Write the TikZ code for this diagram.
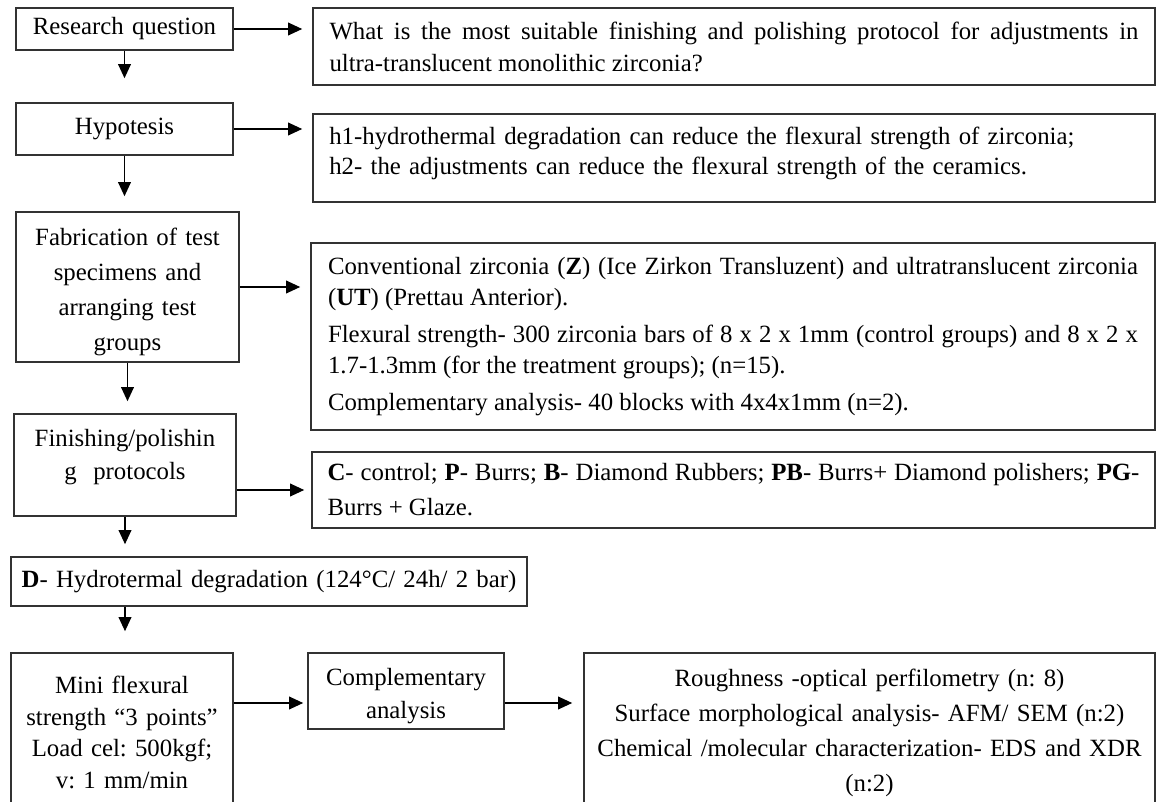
\documentclass[tikz,border=0pt]{standalone}
\usepackage{fontspec}
\setmainfont{Liberation Serif}
\usetikzlibrary{arrows.meta,calc}
\hyphenpenalty=10000
\exhyphenpenalty=10000
\frenchspacing

\tikzset{every picture/.style={line width=0.75pt}}
\tikzset{
	box/.style={draw={rgb, 255:red, 50; green, 50; blue, 50 }, line width=1.2pt, inner sep=0pt},
	lead/.style={font=\fontsize{18.6pt}{#1}\selectfont},
	arr/.style={-{Triangle[length=10.5pt,width=9.5pt]}, line width=1pt},
}

\begin{document}
\begin{tikzpicture}[x=0.75pt,y=0.75pt,yscale=-1,xscale=1]
	\useasboundingbox (0,0) rectangle (1157,802);
	
	%Shape: Rectangle [research question]
	\node [box, lead=23.25pt, minimum width=162.75pt, minimum height=31.5pt, text width=150pt, align=center] (rq) at (124.5,29) {Research question};
	%Shape: Rectangle [question]
	\node [box, lead=24pt, minimum width=631.5pt, minimum height=57.75pt, text width=606.75pt, align=justify] (q) at (734,46.5) {What is the most suitable finishing and polishing protocol for adjustments in\linebreak ultra-translucent monolithic zirconia?};
	
	%Shape: Rectangle [hypotesis]
	\node [box, lead=23.25pt, minimum width=162.75pt, minimum height=39pt, text width=150pt, align=center] (hyp) at (124.5,129) {Hypotesis};
	%Shape: Rectangle [h1 h2]
	\node [box, lead=22.5pt, minimum width=631.5pt, minimum height=66pt, text width=607pt, align=left, text depth=33.7pt] (h) at (734,158) {h1-hydrothermal degradation can reduce the flexural strength of zirconia;\\ h2- the adjustments can reduce the flexural strength of the ceramics.};
	
	%Shape: Rectangle [fabrication]
	\node [box, lead=26.25pt, minimum width=167.25pt, minimum height=112.5pt, text width=155pt, align=center, text height=20pt] (fab) at (127.5,287) {Fabrication of test\\ specimens and\\ arranging test\\ groups};
	%Shape: Rectangle [materials]
	\node [box, lead=23.25pt, minimum width=633pt, minimum height=140.25pt, text width=607.5pt, align=justify] (mat) at (733,336.5) {Conventional zirconia (\textbf{Z}) (Ice Zirkon Transluzent) and ultratranslucent zirconia\linebreak (\textbf{UT}) (Prettau Anterior).\\[4.5pt] Flexural strength- 300 zirconia bars of 8 x 2 x 1mm (control groups) and 8 x 2 x\linebreak 1.7-1.3mm (for the treatment groups); (n=15).\\[4.5pt] Complementary analysis- 40 blocks with 4x4x1mm (n=2).};
	
	%Shape: Rectangle [finishing]
	\node [box, lead=24.75pt, minimum width=166.5pt, minimum height=76.5pt, text width=155pt, align=center, text depth=40pt] (fin) at (125,465) {Finishing/polishin\\ g\ \ protocols};
	%Shape: Rectangle [groups]
	\node [box, lead=26.25pt, minimum width=632.25pt, minimum height=57pt, text width=609pt, align=justify] (grp) at (733.5,490) {\textbf{C}- control; \textbf{P}- Burrs; \textbf{B}- Diamond Rubbers; \textbf{PB}- Burrs+ Diamond polishers; \textbf{PG}-\linebreak Burrs + Glaze.};
	
	%Shape: Rectangle [degradation]
	\node [box, lead=23.25pt, minimum width=387pt, minimum height=36.75pt, text width=375pt, align=center] (deg) at (269,581.5) {\textbf{D}- Hydrotermal degradation (124°C/ 24h/ 2 bar)};
	
	%Shape: Rectangle [mini flexural]
	\node [box, lead=23.6pt, minimum width=166.5pt, minimum height=119.25pt, text width=160pt, align=center] (mini) at (122,732.5) {Mini flexural\\ strength “3 points”\\ Load cel: 500kgf;\\ v: 1 mm/min};
	%Shape: Rectangle [complementary]
	\node [box, lead=24.75pt, minimum width=147pt, minimum height=57pt, text width=140pt, align=center, text height=21pt] (comp) at (406,691) {Complementary\\ analysis};
	%Shape: Rectangle [analyses]
	\node [box, lead=26.25pt, minimum width=428.25pt, minimum height=119.25pt, text width=410pt, align=center] (ana) at (869.5,732.5) {Roughness -optical perfilometry (n: 8)\\ Surface morphological analysis- AFM/ SEM (n:2)\\ Chemical /molecular characterization- EDS and XDR\\ (n:2)};
	
	%Right Arrows
	\draw [arr, shorten >=7.5pt] (rq) -- (rq -| q.west);
	\draw [arr, shorten >=7.5pt] (hyp) -- (hyp -| h.west);
	\draw [arr, shorten >=7.5pt] (fab) -- (fab -| mat.west);
	\draw [arr, shorten >=5.25pt] (grp.west -| fin.east) -- (grp.west);
	\coordinate (cin) at ($(comp.west)+(0,12)$);
	\draw [arr, shorten >=3pt] (cin -| mini.east) -- (cin);
	\draw [arr, shorten >=8.25pt] (cin -| comp.east) -- (cin -| ana.west);
	
	%Down Arrows
	\draw [arr, shorten >=18pt] (rq) -- (hyp);
	\draw [arr, shorten >=11.25pt] (hyp) -- (hyp |- fab.north);
	\draw [arr, shorten >=9pt] (fab) -- (fab |- fin.north);
	\draw [arr, shorten >=9pt] (fin) -- (fin |- deg.north);
	\draw [arr, shorten >=15.75pt] (deg.south -| fin) -- (fin |- mini.north);
\end{tikzpicture}
\end{document}
